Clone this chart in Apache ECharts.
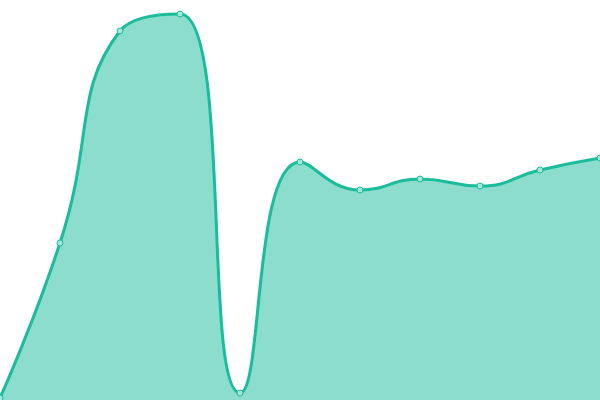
<!DOCTYPE html>
<html>
<head>
<meta charset="utf-8">
<script src="https://cdn.jsdelivr.net/npm/echarts@6/dist/echarts.min.js"></script>
<style>
  html, body { margin: 0; padding: 0; background: #fff; }
  #chart { width: 600px; height: 400px; }
</style>
</head>
<body>
<div id="chart"></div>
<script>
let categories = ['1', '2', '3', '4', '5', '6', '7', '8', '9', '10', '11'];
let values = [2, 157, 369, 386, 7, 238, 210, 221, 214, 230, 242];

let chartElement = document.getElementById('chart');
let chart = echarts.init(chartElement);

let option = {
    animation: false,
    grid: { left: 0, right: 0, top: 0, bottom: 0 },
    xAxis: {
        type: 'category',
        boundaryGap: false,
        data: categories,
        show: false
    },
    yAxis: {
        type: 'value',
        min: 0,
        max: 400,
        show: false
    },
    series: [
        {
            type: 'line',
            smooth: 0.5,
            symbol: 'circle',
            symbolSize: 6,
            lineStyle: { color: '#1abc9c', width: 3 },
            itemStyle: { color: '#a3e7d9', borderColor: '#1abc9c', borderWidth: 1 },
            areaStyle: { color: '#1abc9c', opacity: 0.5 },
            data: values
        }
    ]
};

chart.setOption(option);
</script>
</body>
</html>
